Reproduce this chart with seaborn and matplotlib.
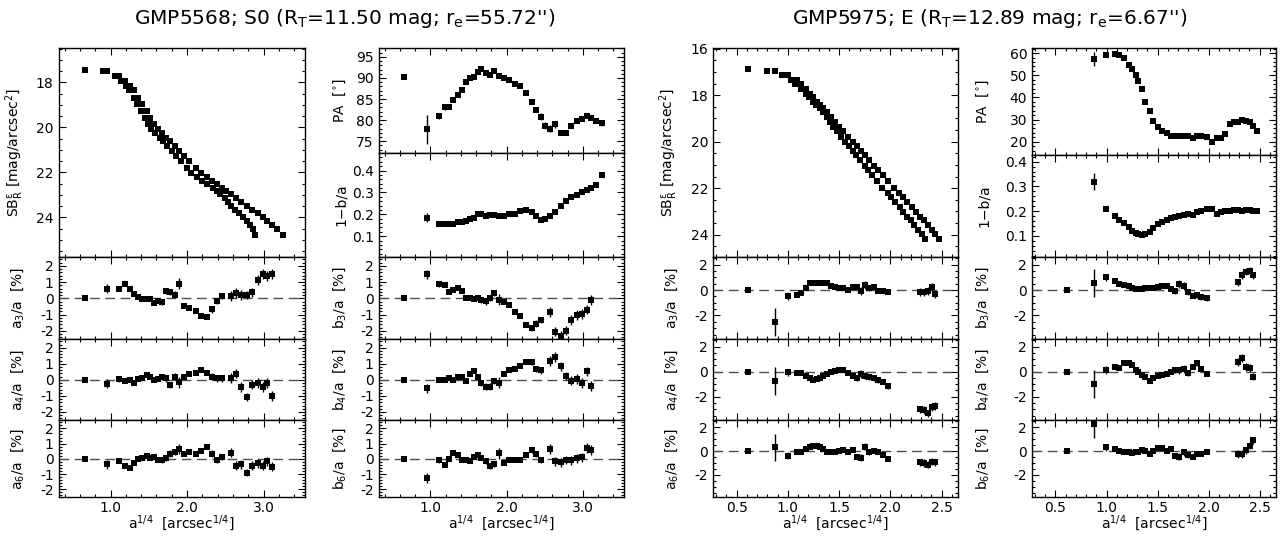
import numpy as np
import matplotlib
matplotlib.use("Agg")
import matplotlib.pyplot as plt
import seaborn as sns
from matplotlib.ticker import MultipleLocator, FormatStrFormatter

nan = np.nan

# ---------------- GMP5568 (S0) ----------------
# a^1/4 of the isophotes (major axis)
x_L = [0.66, 0.95, 1.11, 1.19, 1.25, 1.30, 1.36, 1.41, 1.47, 1.52, 1.57, 1.62, 1.67,
       1.73, 1.78, 1.84, 1.90, 1.96, 2.03, 2.11, 2.18, 2.26, 2.33, 2.39, 2.45, 2.51,
       2.57, 2.64, 2.71, 2.78, 2.85, 2.92, 2.99, 3.05, 3.11, 3.17, 3.25]
# equivalent radius^1/4 (second SB sequence)
xeq_L = [0.66, 0.903, 1.064, 1.141, 1.199, 1.245, 1.301, 1.348, 1.403, 1.447, 1.492,
         1.532, 1.579, 1.640, 1.685, 1.741, 1.801, 1.858, 1.920, 1.994, 2.052, 2.125,
         2.197, 2.265, 2.335, 2.389, 2.436, 2.489, 2.533, 2.578, 2.628, 2.681, 2.733,
         2.777, 2.826, 2.863, 2.886]
sb_L = [17.44, 17.51, 17.73, 17.93, 18.15, 18.35, 18.68, 18.96, 19.29, 19.56, 19.84,
        20.06, 20.23, 20.45, 20.62, 20.84, 21.05, 21.26, 21.51, 21.79, 22.03, 22.22,
        22.39, 22.53, 22.68, 22.83, 22.97, 23.14, 23.31, 23.48, 23.65, 23.82, 23.98,
        24.16, 24.35, 24.53, 24.76]
pa_L = [90.3, 77.8, 81.0, 83.2, 83.2, 84.7, 86.0, 87.2, 89.0, 89.9, 90.3, 91.3, 92.1,
        91.2, 90.7, 91.6, 90.5, 90.0, 89.5, 88.6, 88.1, 86.5, 84.3, 82.5, 80.8, 78.7,
        78.0, 79.0, 77.0, 77.0, 78.7, 79.8, 80.3, 81.0, 80.5, 79.8, 79.3]
pa_err_L = [0.3, 3.4, 0.8, 0.7, 0.4, 0.3, 0.3, 0.3, 0.3, 0.3, 0.3, 0.3, 0.3, 0.3, 0.3,
            0.3, 0.3, 0.3, 0.3, 0.3, 0.3, 0.4, 0.5, 0.6, 0.8, 0.9, 0.8, 0.9, 0.6, 0.5,
            0.5, 0.4, 0.4, 0.5, 0.5, 0.6, 0.6]
ell_L = [nan, 0.185, 0.155, 0.155, 0.155, 0.158, 0.163, 0.165, 0.170, 0.178, 0.185,
         0.200, 0.200, 0.193, 0.196, 0.198, 0.193, 0.193, 0.200, 0.203, 0.215, 0.218,
         0.210, 0.193, 0.175, 0.180, 0.193, 0.210, 0.237, 0.260, 0.277, 0.290, 0.302,
         0.313, 0.318, 0.335, 0.378]
ell_err_L = [nan, 0.022, 0.006, 0.005, 0.005, 0.005, 0.005, 0.005, 0.005, 0.005, 0.005,
             0.005, 0.005, 0.005, 0.005, 0.005, 0.005, 0.005, 0.005, 0.005, 0.005, 0.005,
             0.005, 0.005, 0.006, 0.006, 0.006, 0.006, 0.006, 0.006, 0.006, 0.006, 0.006,
             0.006, 0.006, 0.006, 0.008]
a3_L = [0.00, 0.61, 0.61, 0.87, 0.61, 0.30, 0.06, -0.04, -0.04, -0.06, -0.30, -0.14,
        -0.24, 0.45, 0.41, 0.24, 0.91, -0.47, -0.57, -0.77, -1.08, -1.12, -0.67, -0.16,
        0.14, nan, 0.14, 0.35, 0.20, 0.20, 0.37, 1.12, 1.52, 1.38, 1.52, nan, nan]
a4_L = [0.00, -0.23, 0.04, -0.08, -0.02, -0.17, 0.04, 0.14, 0.33, 0.19, -0.02, 0.08,
        0.15, 0.10, -0.30, 0.20, -0.15, 0.15, 0.35, 0.45, 0.60, 0.45, 0.20, 0.10, 0.10,
        nan, 0.12, 0.39, -0.43, -1.05, -0.29, -0.19, -0.43, -0.19, -1.00, nan, nan]
a6_L = [0.02, -0.35, -0.13, -0.47, -0.62, -0.26, 0.02, 0.05, 0.20, 0.05, 0.10, -0.05,
        -0.10, 0.05, 0.35, 0.45, 0.65, 0.30, 0.45, 0.35, 0.50, 0.80, 0.35, -0.05, 0.10,
        nan, 0.40, -0.45, -0.35, -0.90, -0.45, -0.30, -0.45, -0.15, -0.50, nan, nan]
b3_L = [0.00, 1.48, 0.86, 0.82, 0.40, 0.51, 0.65, 0.45, 0.03, 0.03, -0.01, 0.03, -0.11,
        -0.18, 0.03, 0.34, -0.07, -0.24, -0.38, -0.84, -1.11, -1.63, -1.83, -1.56,
        -1.32, nan, -0.84, -2.04, -2.31, -1.98, -1.32, -1.00, -0.94, -0.69, -0.11, nan, nan]
b4_L = [0.00, -0.53, 0.00, 0.00, 0.10, 0.00, 0.17, 0.17, -0.06, 0.36, 0.57, 0.21, -0.21,
        -0.42, -0.42, -0.06, -0.17, 0.38, 0.59, 0.69, 0.84, 1.12, 1.12, 0.69, 0.59, nan,
        1.16, 1.43, 0.84, 0.27, -0.04, 0.04, -0.21, 0.53, -0.38, nan, nan]
b6_L = [0.00, -1.25, -0.10, -0.39, -0.04, 0.37, 0.26, -0.06, -0.06, -0.15, 0.11, 0.28,
        0.06, -0.15, -0.47, -0.32, 0.37, -0.26, -0.06, -0.06, -0.06, 0.28, 0.60, 0.32,
        -0.10, nan, 0.65, -0.15, -0.22, -0.06, -0.10, 0.04, 0.11, 0.71, 0.58, nan, nan]
harm_err_L = [0.05, 0.30, 0.15, 0.10, 0.10, 0.10, 0.10, 0.10, 0.10, 0.10, 0.10, 0.10,
              0.15, 0.20, 0.20, 0.20, 0.35, 0.10, 0.10, 0.10, 0.10, 0.15, 0.20, 0.20,
              0.20, nan, 0.30, 0.30, 0.30, 0.25, 0.30, 0.30, 0.30, 0.30, 0.30, nan, nan]

# ---------------- GMP5975 (E) ----------------
x_R = [0.61, 0.873, 0.997, 1.085, 1.124, 1.173, 1.216, 1.248, 1.287, 1.313, 1.346,
       1.379, 1.421, 1.460, 1.502, 1.542, 1.590, 1.633, 1.672, 1.714, 1.754, 1.796,
       1.845, 1.884, 1.926, 1.982, 2.037, 2.080, 2.119, 2.161, 2.210, 2.252, 2.292,
       2.324, 2.366, 2.406, 2.438, 2.477]
xeq_R = [0.61, 0.793, 0.941, 1.033, 1.074, 1.126, 1.173, 1.209, 1.250, 1.276, 1.309,
         1.340, 1.378, 1.410, 1.443, 1.478, 1.520, 1.559, 1.593, 1.631, 1.666, 1.704,
         1.753, 1.785, 1.821, 1.869, 1.920, 1.973, 2.007, 2.044, 2.090, 2.127, 2.164,
         2.198, 2.234, 2.272, 2.306, 2.342]
sb_R = [16.87, 16.95, 17.15, 17.33, 17.50, 17.72, 17.93, 18.09, 18.28, 18.41, 18.57,
        18.74, 18.95, 19.14, 19.35, 19.55, 19.79, 20.00, 20.19, 20.40, 20.59, 20.80,
        21.04, 21.23, 21.44, 21.71, 21.98, 22.19, 22.38, 22.59, 22.83, 23.03, 23.23,
        23.38, 23.59, 23.78, 23.96, 24.19]
pa_R = [nan, 57.4, 59.2, 59.7, 59.2, 57.7, 54.7, 52.8, 50.2, 47.2, 43.7, 38.1, 33.9,
        29.4, 26.5, 25.0, 24.0, 22.5, 22.5, 22.5, 22.5, 22.5, 21.5, 22.5, 22.5, 22.0,
        20.0, 21.5, 21.5, 23.5, 28.0, 29.0, 29.0, 30.0, 29.5, 29.0, 27.0, 25.0]
pa_err_R = [nan, 3.0, 0.6, 0.5, 0.5, 0.5, 0.5, 0.5, 0.5, 0.5, 0.5, 0.5, 0.5, 0.5, 0.5,
            0.5, 0.5, 0.5, 0.5, 0.5, 0.5, 0.5, 0.5, 0.5, 0.5, 0.5, 0.6, 0.6, 0.6, 0.6,
            0.8, 0.8, 0.8, 1.0, 1.0, 1.0, 1.0, 1.2]
ell_R = [nan, 0.319, 0.208, 0.178, 0.165, 0.152, 0.135, 0.120, 0.110, 0.107, 0.105,
         0.108, 0.115, 0.130, 0.148, 0.155, 0.165, 0.170, 0.175, 0.180, 0.185, 0.190,
         0.185, 0.195, 0.200, 0.210, 0.210, 0.190, 0.195, 0.200, 0.200, 0.205, 0.205,
         0.200, 0.205, 0.205, 0.200, 0.200]
ell_err_R = [nan, 0.035, 0.008, 0.005, 0.005, 0.005, 0.005, 0.005, 0.005, 0.005, 0.005,
             0.005, 0.005, 0.005, 0.005, 0.005, 0.005, 0.005, 0.005, 0.005, 0.005, 0.005,
             0.005, 0.005, 0.005, 0.005, 0.005, 0.005, 0.005, 0.005, 0.005, 0.005, 0.005,
             0.005, 0.005, 0.005, 0.005, 0.005]
a3_R = [0.00, -2.48, -0.47, -0.39, -0.21, 0.13, 0.58, 0.58, 0.58, 0.58, 0.58, 0.55, 0.34,
        0.21, 0.18, 0.18, 0.00, 0.21, 0.21, -0.05, 0.39, 0.18, 0.26, -0.05, -0.05, -0.13,
        nan, nan, nan, nan, nan, nan, -0.13, -0.18, -0.05, 0.26, -0.34, nan]
a4_R = [0.00, -0.75, -0.05, -0.13, -0.13, -0.35, -0.53, -0.67, -0.61, -0.48, -0.35,
        -0.21, -0.05, 0.08, 0.13, 0.13, -0.08, -0.32, -0.53, -0.19, -0.32, -0.40, -0.53,
        -0.67, -0.80, -1.15, nan, nan, nan, nan, nan, nan, -3.00, -3.07, -3.33, -2.80,
        -2.72, nan]
a6_R = [0.00, 0.30, -0.39, -0.05, -0.05, 0.17, 0.36, 0.41, 0.41, 0.36, 0.17, -0.05,
        -0.11, -0.05, 0.00, 0.08, -0.05, 0.08, -0.47, -0.55, 0.36, -0.11, 0.00, -0.05,
        -0.33, -0.66, nan, nan, nan, nan, nan, nan, -0.94, -1.00, -1.16, -0.88, -0.94, nan]
b3_R = [0.00, 0.55, 1.00, 0.75, 0.50, 0.40, 0.30, 0.15, 0.10, 0.10, 0.12, 0.15, 0.18,
        0.20, 0.25, 0.30, 0.35, 0.10, -0.10, 0.50, 0.30, -0.15, -0.45, -0.40, -0.55,
        -0.65, nan, nan, nan, nan, nan, nan, 0.60, 1.20, 1.45, 1.50, 1.15, nan]
b4_R = [0.00, -0.99, 0.13, 0.40, 0.30, 0.65, 0.65, 0.55, 0.15, -0.05, -0.25, -0.40,
        -0.75, -0.50, -0.35, -0.30, -0.15, 0.00, 0.10, 0.10, 0.20, -0.10, 0.40, 0.65,
        0.20, -0.15, nan, nan, nan, nan, nan, nan, 0.75, 1.10, 0.35, 0.30, -0.40, nan]
b6_R = [0.00, 2.23, 0.30, 0.17, 0.00, -0.05, -0.11, -0.19, -0.11, -0.05, 0.10, 0.00,
        -0.28, 0.00, 0.22, 0.22, 0.00, 0.17, -0.39, -0.47, -0.11, -0.33, -0.47, -0.25,
        -0.25, -0.05, nan, nan, nan, nan, nan, nan, -0.25, -0.25, 0.08, 0.44, 0.91, nan]
harm_err_R = [0.05, 1.10, 0.30, 0.15, 0.15, 0.10, 0.10, 0.10, 0.10, 0.10, 0.10, 0.10,
              0.10, 0.10, 0.10, 0.10, 0.15, 0.20, 0.20, 0.30, 0.30, 0.25, 0.20, 0.20,
              0.20, 0.20, nan, nan, nan, nan, nan, nan, 0.30, 0.30, 0.30, 0.30, 0.30, nan]

title_L = r"GMP5568; S0 (R$_\mathrm{T}$=11.50 mag; r$_\mathrm{e}$=55.72'')"
title_R = r"GMP5975; E (R$_\mathrm{T}$=12.89 mag; r$_\mathrm{e}$=6.67'')"

# ---------------- style ----------------
sns.set_theme(style="ticks")
plt.rcParams.update({
    "font.family": ["DejaVu Sans"],
    "mathtext.default": "regular",
    "axes.linewidth": 1.0,
    "axes.edgecolor": "black",
    "axes.labelcolor": "black",
    "text.color": "black",
    "xtick.color": "black",
    "ytick.color": "black",
    "xtick.labelsize": 10,
    "ytick.labelsize": 10,
    "axes.labelsize": 10,
})

W, H = 1287, 536
fig = plt.figure(figsize=(W / 100, H / 100), dpi=100)


def box(x0, x1, y0, y1):
    return [x0 / W, 1 - y1 / H, (x1 - x0) / W, (y1 - y0) / H]


def points(ax, x, y, err=None, s=20):
    if err is not None:
        ax.errorbar(x, y, yerr=err, fmt="none", ecolor="black", elinewidth=1.0,
                    capsize=0, zorder=2)
    sns.scatterplot(x=x, y=y, ax=ax, marker="s", color="black", s=s,
                    linewidth=0, legend=False, zorder=3)


def style(ax, xlim, ylim, xmaj, xmin, ymaj, ymin, yfmt, xlab=False):
    ax.set_xlim(*xlim)
    ax.set_ylim(*ylim)
    ax.xaxis.set_major_locator(MultipleLocator(xmaj))
    ax.xaxis.set_minor_locator(MultipleLocator(xmin))
    ax.yaxis.set_major_locator(MultipleLocator(ymaj))
    ax.yaxis.set_minor_locator(MultipleLocator(ymin))
    ax.xaxis.set_major_formatter(FormatStrFormatter("%.1f"))
    ax.yaxis.set_major_formatter(FormatStrFormatter(yfmt))
    ax.tick_params(which="both", direction="in", top=True, right=True, width=0.8)
    ax.tick_params(which="major", length=5)
    ax.tick_params(which="minor", length=2.5)
    ax.tick_params(axis="x", pad=3)
    ax.tick_params(labelbottom=xlab)
    ax.set_ylabel("")
    if xlab:
        ax.set_xlabel(r"a$^{1/4}$  [arcsec$^{1/4}$]", va="top")
        ax.xaxis.set_label_coords(0.5, -0.205)
    else:
        ax.set_xlabel("")


cols = [(58.5, 305), (378.5, 624), (713, 958), (1032, 1276)]
harm_rows = [(257, 339), (339, 420), (420, 497)]

galaxies = [
    dict(x=x_L, xeq=xeq_L, sb=sb_L, pa=pa_L, pa_err=pa_err_L, ell=ell_L, ell_err=ell_err_L,
         a=[a3_L, a4_L, a6_L], b=[b3_L, b4_L, b6_L], herr=harm_err_L,
         xlim=(0.32, 3.54), xmaj=1.0, xmin=0.2, sblim=(25.76, 16.47),
         palim=(72.2, 97.1), pamaj=5, pamin=1, elim=(0.005, 0.48),
         hlim=(-2.5, 2.55), hmaj=1, hmin=0.2, split=153, c=(0, 1),
         lab=(-0.13, -0.125), title=title_L, tx=345),
    dict(x=x_R, xeq=xeq_R, sb=sb_R, pa=pa_R, pa_err=pa_err_R, ell=ell_R, ell_err=ell_err_R,
         a=[a3_R, a4_R, a6_R], b=[b3_R, b4_R, b6_R], herr=harm_err_R,
         xlim=(0.27, 2.66), xmaj=0.5, xmin=0.1, sblim=(24.96, 15.97),
         palim=(14.0, 62.3), pamaj=10, pamin=2, elim=(0.014, 0.427),
         hlim=(-3.85, 2.6), hmaj=2, hmin=0.5, split=155, c=(2, 3),
         lab=(-0.135, -0.17), title=title_R, tx=990),
]

for g in galaxies:
    ca, cb = cols[g["c"][0]], cols[g["c"][1]]
    la, lb = g["lab"]

    # surface brightness
    ax = fig.add_axes(box(ca[0], ca[1], 48, 257))
    points(ax, g["xeq"], g["sb"], s=18)
    points(ax, g["x"], g["sb"], s=18)
    style(ax, g["xlim"], g["sblim"], g["xmaj"], g["xmin"], 2, 0.5, "%d")
    ax.set_ylabel(r"SB$^{\epsilon}_{R}$ [mag/arcsec$^2$]")
    ax.yaxis.set_label_coords(la, 0.5)

    # position angle
    ax = fig.add_axes(box(cb[0], cb[1], 48, g["split"]))
    points(ax, g["x"], g["pa"], g["pa_err"])
    style(ax, g["xlim"], g["palim"], g["xmaj"], g["xmin"], g["pamaj"], g["pamin"], "%d")
    ax.set_ylabel(r"PA  [$^{\circ}$]")
    ax.yaxis.set_label_coords(lb, 0.5)

    # ellipticity
    ax = fig.add_axes(box(cb[0], cb[1], g["split"], 257))
    points(ax, g["x"], g["ell"], g["ell_err"])
    style(ax, g["xlim"], g["elim"], g["xmaj"], g["xmin"], 0.1, 0.02, "%.1f")
    ax.set_ylabel("1\u2212b/a")
    ax.yaxis.set_label_coords(lb, 0.5)

    # harmonics
    for k, (order, (r0, r1)) in enumerate(zip([3, 4, 6], harm_rows)):
        for col, vals, letter, lx in [(ca, g["a"][k], "a", la), (cb, g["b"][k], "b", lb)]:
            ax = fig.add_axes(box(col[0], col[1], r0, r1))
            ax.axhline(0, color="0.3", lw=1.0, ls=(0, (7, 4)), zorder=1)
            points(ax, g["x"], vals, g["herr"])
            style(ax, g["xlim"], g["hlim"], g["xmaj"], g["xmin"], g["hmaj"], g["hmin"],
                  "%d", xlab=(order == 6))
            ax.set_ylabel(f"{letter}$_{order}$/a  [%]")
            ax.yaxis.set_label_coords(lx, 0.5)

    fig.text(g["tx"] / W, 1 - 18 / H, g["title"], ha="center", va="center", fontsize=14.5)

fig.savefig("out.png", dpi=100)
